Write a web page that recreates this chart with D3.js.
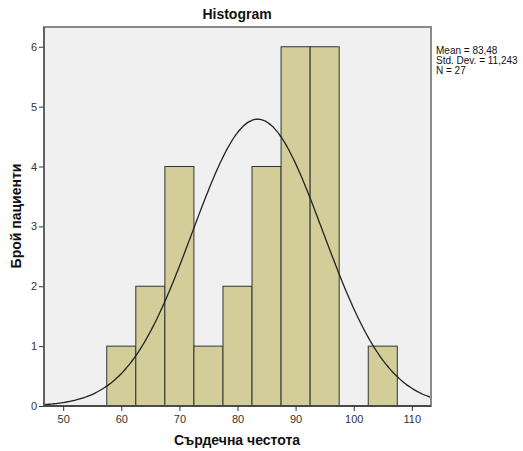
<!DOCTYPE html>
<html>
<head>
<meta charset="utf-8">
<script src="https://cdn.jsdelivr.net/npm/d3@7"></script>
<style>
  body { margin: 0; background: #fff; }
  text { font-family: Arial, "Liberation Sans", sans-serif; }
</style>
</head>
<body>
<svg width="523" height="451"></svg>
<script>
// bins of heart rate (width 5) and patient counts
var binStarts = [57.5, 62.5, 67.5, 72.5, 77.5, 82.5, 87.5, 92.5, 97.5, 102.5];
var counts = [1, 2, 4, 1, 2, 4, 6, 6, 0, 1];
var xTicks = [50, 60, 70, 80, 90, 100, 110];
var yTicks = [0, 1, 2, 3, 4, 5, 6];
var stats = ['Mean = 83,48', 'Std. Dev. = 11,243', 'N = 27'];
var mean = 83.48, sd = 11.243, n = 27, binWidth = 5;

var svg = d3.select('svg');
// note: "top" is taken by window.top, so use other names
var plotL = 44, plotT = 27, plotR = 431, plotB = 406;

var x = d3.scaleLinear().domain([46.7, 113.3]).range([plotL, plotR]);
var y = d3.scaleLinear().domain([0, 6.33]).range([plotB, plotT]);

// plot background
svg.append('rect')
  .attr('x', plotL).attr('y', plotT)
  .attr('width', plotR - plotL).attr('height', plotB - plotT)
  .style('fill', '#f0f0f0');

// bars
svg.selectAll('.bar')
  .data(binStarts.map(function (d, i) { return { x0: d, x1: d + binWidth, c: counts[i] }; }))
  .enter().append('rect')
  .attr('class', 'bar')
  .attr('x', function (d) { return x(d.x0); })
  .attr('y', function (d) { return y(d.c); })
  .attr('width', function (d) { return x(d.x1) - x(d.x0); })
  .attr('height', function (d) { return y(0) - y(d.c); })
  .style('fill', '#d3ce99')
  .style('stroke', '#333')
  .style('stroke-width', 1)
  .style('display', function (d) { return d.c > 0 ? null : 'none'; });

// normal curve
var curveXs = d3.range(46.7, 113.31, 0.3);
var line = d3.line()
  .x(function (d) { return x(d); })
  .y(function (d) {
    var z = (d - mean) / sd;
    return y(n * binWidth * Math.exp(-0.5 * z * z) / (sd * Math.sqrt(2 * Math.PI)));
  })
  .curve(d3.curveBasis);
svg.append('path')
  .datum(curveXs)
  .attr('d', line)
  .style('fill', 'none')
  .style('stroke', '#222')
  .style('stroke-width', 1.3);

// frame
svg.append('rect')
  .attr('x', plotL).attr('y', plotT)
  .attr('width', plotR - plotL).attr('height', plotB - plotT)
  .style('fill', 'none')
  .style('stroke', '#8a8a8a')
  .style('stroke-width', 2);

// axes
var xAxis = svg.append('g')
  .attr('transform', 'translate(0,' + plotB + ')')
  .call(d3.axisBottom(x).tickValues(xTicks).tickFormat(d3.format('d'))
    .tickSize(5).tickSizeOuter(0).tickPadding(4));
var yAxis = svg.append('g')
  .attr('transform', 'translate(' + plotL + ',0)')
  .call(d3.axisLeft(y).tickValues(yTicks).tickFormat(d3.format('d'))
    .tickSize(5).tickSizeOuter(0).tickPadding(2));
[xAxis, yAxis].forEach(function (g) {
  g.select('.domain').remove();
  g.selectAll('.tick line').style('stroke', '#333');
  g.selectAll('.tick text').style('font-size', '11px').style('fill', '#333')
    .style('font-family', 'Arial, "Liberation Sans", sans-serif');
});
svg.append('line')
  .attr('x1', plotL).attr('x2', plotR).attr('y1', plotB).attr('y2', plotB)
  .style('stroke', '#333').style('stroke-width', 1.5);
svg.append('line')
  .attr('x1', plotL).attr('x2', plotL).attr('y1', plotT).attr('y2', plotB)
  .style('stroke', '#555').style('stroke-width', 1.5);

// title and axis labels
svg.append('text')
  .attr('x', 237).attr('y', 19)
  .attr('text-anchor', 'middle')
  .style('font-size', '14px').style('font-weight', 'bold').style('fill', '#111')
  .text('Histogram');
svg.append('text')
  .attr('x', 237).attr('y', 445)
  .attr('text-anchor', 'middle')
  .style('font-size', '14px').style('font-weight', 'bold').style('fill', '#111')
  .text('Сърдечна честота');
svg.append('text')
  .attr('transform', 'translate(21,216) rotate(-90)')
  .attr('text-anchor', 'middle')
  .style('font-size', '14px').style('font-weight', 'bold').style('fill', '#111')
  .text('Брой пациенти');

// stats legend
svg.selectAll('.stat')
  .data(stats)
  .enter().append('text')
  .attr('class', 'stat')
  .attr('x', 436)
  .attr('y', function (d, i) { return 54 + i * 10; })
  .style('font-size', '10px').style('fill', '#111')
  .text(function (d) { return d; });
</script>
</body>
</html>
